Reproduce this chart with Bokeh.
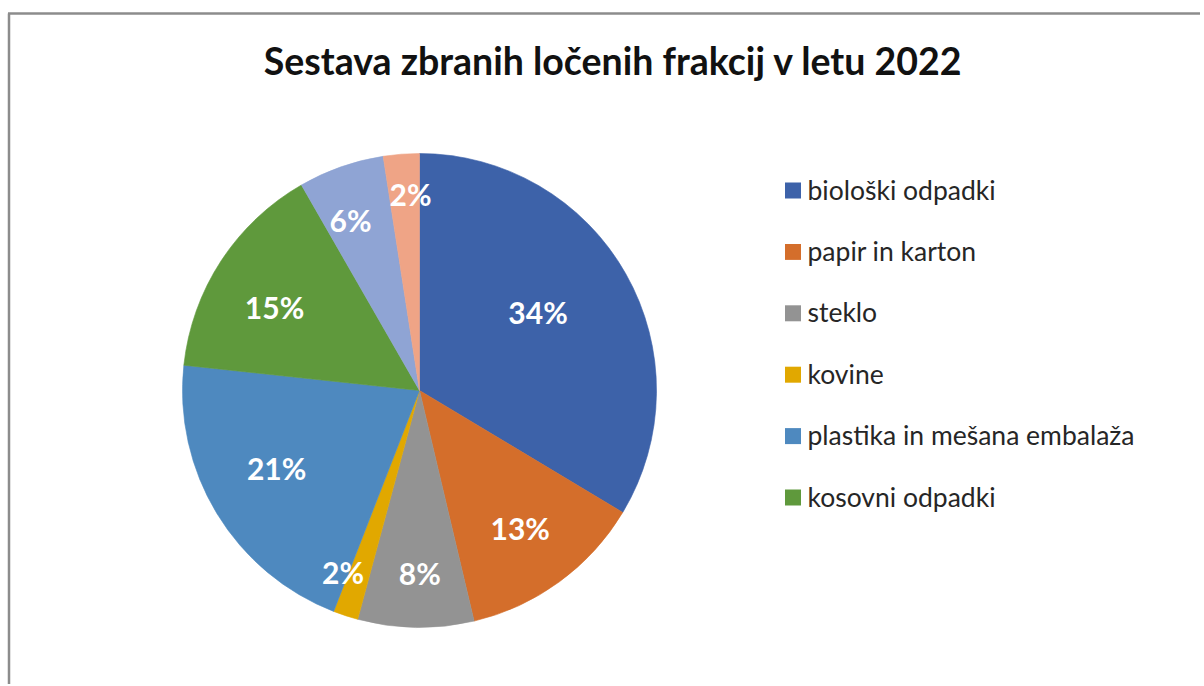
import numpy as np
from bokeh.plotting import figure
from bokeh.models import Range1d, ColumnDataSource
from bokeh.core.properties import value
from bokeh.embed import file_html
from bokeh.resources import INLINE

# ---- data ----
title = "Sestava zbranih ločenih frakcij v letu 2022"
categories = ["biološki odpadki", "papir in karton", "steklo", "kovine",
              "plastika in mešana embalaža", "kosovni odpadki", "kategorija 7", "kategorija 8"]
shares = [33.6, 12.7, 7.9, 1.7, 20.8, 15.0, 5.85, 2.45]
pct_labels = ["34%", "13%", "8%", "2%", "21%", "15%", "6%", "2%"]
legend_count = 6

# ---- styles ----
colors = ["#3D62A9", "#D46E2B", "#939393", "#E1A800", "#4E89BF", "#5F993C", "#8FA4D4", "#EFA486"]
label_radius_frac = [0.60, 0.72, 0.77, 0.83, 0.685, 0.705, 0.775, 0.83]
label_angle_shift_deg = [-4.0, 0.0, -1.0, 4.7, 3.0, -3.3, -2.7, 1.8]

W, H = 1200, 684
p = figure(width=W, height=H, output_backend="svg", toolbar_location=None,
           x_range=Range1d(0, W), y_range=Range1d(0, H), min_border=0)
p.axis.visible = False
p.grid.visible = False
p.outline_line_color = None
p.background_fill_color = "white"
p.border_fill_color = "white"

# chart-area border (top and left edges visible)
p.segment(x0=[8.5, 7.5], y0=[0, 671], x1=[8.5, W], y1=[671, 671],
          line_color="#8C8C8C", line_width=2.5)

cx, cy, r = 419, 294, 237
vals = np.array(shares, dtype=float)
frac = vals / vals.sum()
c1 = np.cumsum(frac)
c0 = c1 - frac
start = np.pi / 2 - 2 * np.pi * c1
end = np.pi / 2 - 2 * np.pi * c0
mid = np.pi / 2 - 2 * np.pi * (c0 + c1) / 2 - np.radians(label_angle_shift_deg)

src = ColumnDataSource(dict(start=start, end=end, color=colors, cat=categories))
p.wedge(x=cx, y=cy, radius=r, start_angle="start", end_angle="end",
        fill_color="color", line_color="color", line_width=0.6, source=src)

lx = cx + np.array(label_radius_frac) * r * np.cos(mid)
ly = cy + np.array(label_radius_frac) * r * np.sin(mid)
p.text(x=lx, y=ly, text=pct_labels, text_align="center", text_baseline="middle",
       text_font=value("Lato"), text_font_style="bold", text_font_size="30px",
       text_color="white")

# title
p.text(x=[613], y=[H - 60], text=[title], text_align="center", text_baseline="middle",
       text_font=value("Lato"), text_font_style="bold", text_font_size="37.5px",
       text_color="#111111")

# legend
n = legend_count
row_y = H - (190 + 61.4 * np.arange(n))
p.rect(x=[792.5] * n, y=row_y, width=16, height=16, fill_color=colors[:n], line_color=None)
p.text(x=[807] * n, y=row_y + 1, text=categories[:n], text_align="left",
       text_baseline="middle", text_font=value("Lato"), text_font_size="26.5px",
       text_color="#262626")

open("out.html", "w").write(file_html(p, INLINE))
